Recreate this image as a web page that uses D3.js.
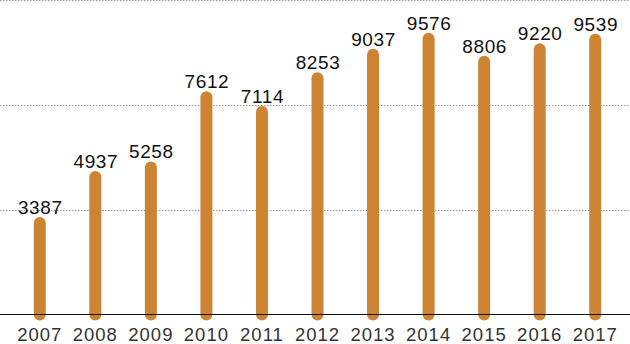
<!DOCTYPE html>
<html>
<head>
<meta charset="utf-8">
<script src="https://cdn.jsdelivr.net/npm/d3@7"></script>
<style>
  html, body { margin: 0; padding: 0; background: #fff; }
  svg { display: block; }
</style>
</head>
<body>
<svg id="chart" width="630" height="344"></svg>
<script>
const years = ["2007","2008","2009","2010","2011","2012","2013","2014","2015","2016","2017"];
const values = [3387, 4937, 5258, 7612, 7114, 8253, 9037, 9576, 8806, 9220, 9539];
const gridValues = [3625, 7150, 10660];

const W = 630, H = 344;
const svg = d3.select("#chart");

const x = d3.scaleBand().domain(years).range([12, 623]).padding(0);
const y = d3.scaleLinear().domain([0, 10676]).range([318, 0]);
const baselineY = 314.5;
const barW = 12;

// gridlines
svg.append("g").selectAll("line").data(gridValues).join("line")
  .attr("x1", 0).attr("x2", W)
  .attr("y1", d => Math.round(y(d)) + 0.5)
  .attr("y2", d => Math.round(y(d)) + 0.5)
  .attr("stroke", "#9a9a9a")
  .attr("stroke-width", 1)
  .attr("stroke-dasharray", "1.5,1.5");

// bars
const data = years.map((yr, i) => ({ yr, v: values[i] }));
svg.append("g").selectAll("rect").data(data).join("rect")
  .attr("x", d => x(d.yr) + x.bandwidth() / 2 - barW / 2)
  .attr("width", barW)
  .attr("y", d => y(d.v))
  .attr("height", d => 320.5 - y(d.v))
  .attr("rx", barW / 2)
  .attr("fill", "#cc8433");

// baseline axis
const xAxis = d3.axisBottom(x).tickSize(0).tickPadding(0);
const axisG = svg.append("g").attr("transform", `translate(0,${baselineY})`).call(xAxis);
axisG.select(".domain").remove();
axisG.append("line").attr("x1", 0).attr("x2", W).attr("y1", 0).attr("y2", 0)
  .attr("stroke", "#111").attr("stroke-width", 1);
axisG.selectAll(".tick text")
  .attr("dy", null)
  .attr("y", 26.5)
  .attr("font-family", "Liberation Sans, Arial, sans-serif")
  .attr("font-size", 18.5)
  .attr("letter-spacing", "1px")
  .attr("fill", "#333");

// value labels
svg.append("g").selectAll("text").data(data).join("text")
  .attr("x", d => x(d.yr) + x.bandwidth() / 2 + 0.5)
  .attr("y", d => y(d.v) - 3)
  .attr("text-anchor", "middle")
  .attr("font-family", "Liberation Sans, Arial, sans-serif")
  .attr("font-size", 19)
  .attr("letter-spacing", "0.6px")
  .attr("fill", "#111")
  .text(d => d.v);
</script>
</body>
</html>
